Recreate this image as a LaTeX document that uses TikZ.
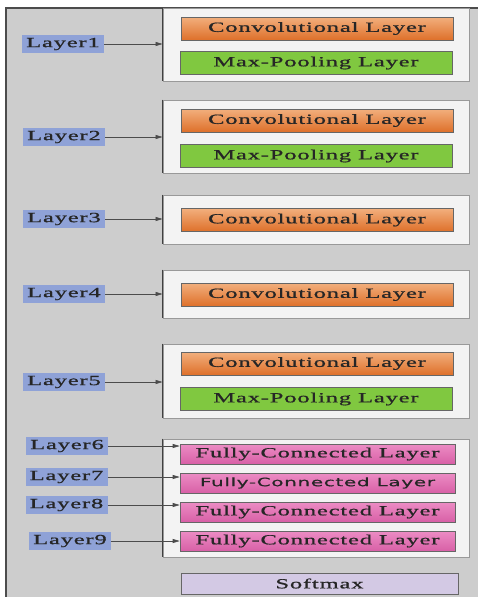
\documentclass[tikz,border=0pt]{standalone}
\usepackage{fontspec}
\usepackage{tikz}
\usetikzlibrary{shapes}
\usetikzlibrary{arrows.meta}
\newfontfamily\layerfont[FakeStretch=1.75,LetterSpace=6,FakeBold=1]{Liberation Serif}
\newfontfamily\densefont[FakeStretch=1.75,LetterSpace=5,FakeBold=0.6]{DejaVu Sans}
\definecolor{panelgray}{RGB}{205,205,205}
\definecolor{groupwhite}{RGB}{243,243,243}
\definecolor{tagblue}{RGB}{143,162,215}
\definecolor{convtop}{RGB}{242,175,125}
\definecolor{convbot}{RGB}{222,112,42}
\definecolor{poolgreen}{RGB}{128,200,64}
\definecolor{densetop}{RGB}{236,140,196}
\definecolor{densebot}{RGB}{216,96,166}
\definecolor{softlilac}{RGB}{211,201,228}
\tikzstyle{panel} = [fill=panelgray, draw=black!70, line width=1.2pt]
\tikzstyle{group} = [rectangle, fill=groupwhite, draw=black!40, line width=0.8pt,
inner sep=0pt, minimum width=306pt]
\tikzstyle{groupedge} = [draw=black!75, line width=1.1pt]
\tikzstyle{tag} = [rectangle, fill=tagblue, inner sep=0pt, minimum width=82pt,
minimum height=18pt, text=black!85, font=\layerfont\fontsize{14}{14}\selectfont]
\tikzstyle{block} = [rectangle, draw=black!60, line width=0.6pt, inner sep=0pt,
text=black!85, font=\layerfont\fontsize{14}{14}\selectfont]
\tikzstyle{conv} = [block, top color=convtop, bottom color=convbot,
minimum width=272pt, minimum height=23pt]
\tikzstyle{pool} = [block, fill=poolgreen, minimum width=272pt, minimum height=23pt]
\tikzstyle{dense} = [block, top color=densetop, bottom color=densebot,
minimum width=275pt, minimum height=20pt]
\tikzstyle{soft} = [block, fill=softlilac, minimum width=277pt, minimum height=21pt]
\tikzstyle{feedline} = [draw=black!55, line width=0.6pt]
\tikzset{>={Triangle[length=7pt,width=4pt]}}
\newcommand{\feed}[2]{ %
  % Arrow from each tag in #1 across to the block #2.
  \foreach \x in {#1} { %
    \path[feedline] (\x.east) edge [->, black!70] (\x.east -| #2.west) ;%
  } ;
}

\begin{document}
\begin{tikzpicture}[x=1pt, y=-1pt]
				\useasboundingbox[fill=white] (0,0) rectangle (478,597) ; %
				\draw[panel] (6,8) rectangle (495,615) ; %

				% layer groups
				\node[group, minimum height=73pt] (g1) at (316,44.5) {} ; %
				\node[group, minimum height=73pt] (g2) at (316,136.5) {} ; %
				\node[group, minimum height=49pt] (g3) at (316,219.5) {} ; %
				\node[group, minimum height=48pt] (g4) at (316,294) {} ; %
				\node[group, minimum height=74pt] (g5) at (316,381) {} ; %
				\node[group, minimum height=118pt] (g6) at (316,498) {} ; %
				\foreach \g in {g1,g2,g3,g4,g5,g6} { %
					\draw[groupedge] (\g.north west) -- (\g.south west) ; %
				}

				\node[conv] (c1) at (317,28.5) {Convolutional Layer} ; %
				\node[pool] (p1) at (316,63) {Max-Pooling Layer} ; %
				\node[conv] (c2) at (317,120.5) {Convolutional Layer} ; %
				\node[pool] (p2) at (316,156) {Max-Pooling Layer} ; %
				\node[conv] (c3) at (317,220) {Convolutional Layer} ; %
				\node[conv] (c4) at (317,294.5) {Convolutional Layer} ; %
				\node[conv] (c5) at (317,363.5) {Convolutional Layer} ; %
				\node[pool] (p5) at (316,399) {Max-Pooling Layer} ; %

				\node[dense] (fc6) at (317.5,454) {Fully-Connected Layer} ; %
				\node[dense, font=\densefont\fontsize{11.5}{11.5}\selectfont] (fc7) at (317.5,483) {Fully-Connected Layer} ; %
				\node[dense] (fc8) at (317.5,512) {Fully-Connected Layer} ; %
				\node[dense] (fc9) at (317.5,541) {Fully-Connected Layer} ; %
				\node[soft] (sm) at (319.5,583.5) {Softmax} ; %

				% layer tags
				\node[tag] (l1) at (63,44) {Layer1} ; %
				\node[tag] (l2) at (64,137) {Layer2} ; %
				\node[tag] (l3) at (64,219) {Layer3} ; %
				\node[tag] (l4) at (64,294) {Layer4} ; %
				\node[tag] (l5) at (64,382) {Layer5} ; %
				\node[tag] (l6) at (67,446) {Layer6} ; %
				\node[tag] (l7) at (66.5,477) {Layer7} ; %
				\node[tag] (l8) at (66.5,505) {Layer8} ; %
				\node[tag] (l9) at (70,541) {Layer9} ; %

				\feed {l1} {g1} ;
				\feed {l2} {g2} ;
				\feed {l3} {g3} ;
				\feed {l4} {g4} ;
				\feed {l5} {g5} ;
				\feed {l6} {fc6} ;
				\feed {l7} {fc7} ;
				\feed {l8} {fc8} ;
				\feed {l9} {fc9} ;
\end{tikzpicture}
\end{document}
